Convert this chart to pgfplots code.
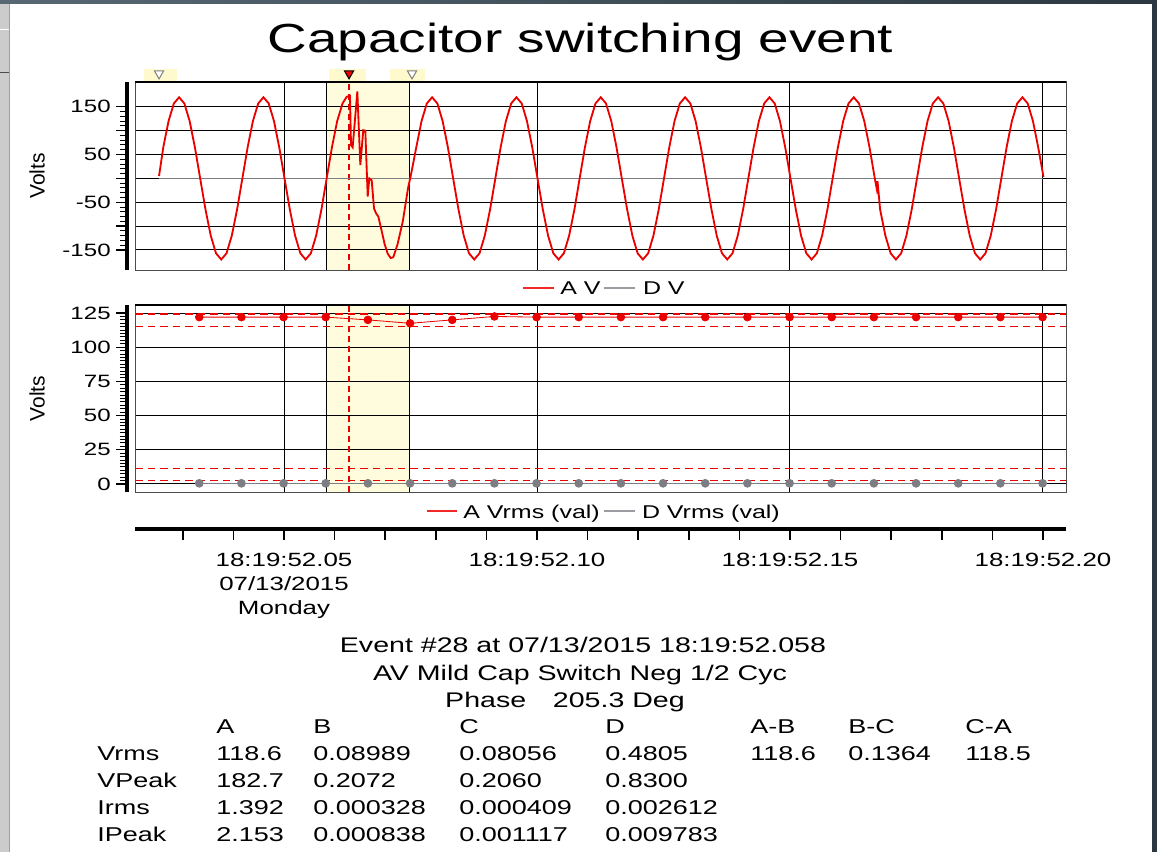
\documentclass[border=0pt]{standalone}
\usepackage{fontspec}
\setmainfont[FakeStretch=1.35]{Liberation Sans}
\newfontfamily\plainsans{Liberation Sans}
\usepackage{pgfplots}
\usepackage{pgfplotstable}
\pgfplotsset{compat=1.18}
\definecolor{wred}{RGB}{235,0,0}
\definecolor{lred}{RGB}{240,40,40}
\definecolor{dgray}{RGB}{125,125,132}
\definecolor{lgray}{RGB}{155,155,162}
\definecolor{hl}{RGB}{255,252,222}
\definecolor{glow}{RGB}{254,250,205}
\definecolor{chromeA}{RGB}{88,104,114}
\definecolor{chromeB}{RGB}{43,56,66}

\pgfplotstableread{
t v
25.30 5
26.14 65
27.18 120
28.23 157
29.27 170
30.31 157
31.35 120
32.39 65
33.43 0
34.48 -65
35.52 -120
36.56 -157
37.60 -170
38.64 -157
39.68 -120
40.73 -65
41.77 0
42.81 65
43.85 120
44.90 157
45.94 170
46.98 157
48.02 120
49.06 65
50.10 0
51.15 -65
52.19 -120
53.23 -157
54.27 -170
55.31 -157
56.35 -120
57.40 -65
58.43 0
59.47 65
60.51 120
61.56 157
62.39 171
63.04 173
63.24 70
63.57 65
64.49 182
65.08 28
65.67 101
66.07 100
66.54 -38
66.86 0
67.33 -4
67.79 -63
68.18 -73
68.64 -80
69.30 -110
69.89 -138
70.50 -158
71.10 -167
71.60 -165
72.44 -138
73.48 -90
74.52 -20
75.10 8
76.14 65
77.18 120
78.23 157
79.27 170
80.31 157
81.35 120
82.39 65
83.43 0
84.48 -65
85.52 -120
86.56 -157
87.60 -170
88.64 -157
89.68 -120
90.73 -65
91.77 0
92.81 65
93.85 120
94.90 157
95.94 170
96.98 157
98.02 120
99.06 65
100.10 0
101.15 -65
102.19 -120
103.23 -157
104.27 -170
105.31 -157
106.35 -120
107.40 -65
108.43 0
109.47 65
110.51 120
111.56 157
112.60 170
113.64 157
114.68 120
115.72 65
116.76 0
117.81 -65
118.85 -120
119.89 -157
120.93 -170
121.97 -157
123.01 -120
124.06 -65
125.10 0
126.14 65
127.18 120
128.23 157
129.27 170
130.31 157
131.35 120
132.39 65
133.43 0
134.48 -65
135.52 -120
136.56 -157
137.60 -170
138.64 -157
139.68 -120
140.73 -65
141.77 0
142.81 65
143.85 120
144.90 157
145.94 170
146.98 157
148.02 120
149.06 65
150.10 0
151.15 -65
152.19 -120
153.23 -157
154.27 -170
155.31 -157
156.35 -120
157.40 -65
158.43 0
159.47 65
160.51 120
161.56 157
162.60 170
163.64 157
164.68 120
165.72 65
166.76 0
167.15 -22
167.30 -6
167.81 -65
168.85 -120
169.89 -157
170.93 -170
171.97 -157
173.01 -120
174.06 -65
175.10 0
176.14 65
177.18 120
178.23 157
179.27 170
180.31 157
181.35 120
182.39 65
183.43 0
184.48 -65
185.52 -120
186.56 -157
187.60 -170
188.64 -157
189.68 -120
190.73 -65
191.77 0
192.81 65
193.85 120
194.90 157
195.94 170
196.98 157
198.02 120
199.06 65
200.10 3
}\waveA

\pgfplotstableread{
t v
33.25 122
41.58 122
49.92 122
58.25 122
66.58 120
74.92 117.5
83.25 120
91.58 122.5
99.92 122
108.25 122
116.58 122
124.92 122
133.25 122
141.58 122
149.92 122
158.25 122
166.58 122
174.92 122
183.25 122
191.58 122
199.92 122
}\vrmsA

\pgfplotstableread{
t v
33.25 0.48
41.58 0.48
49.92 0.48
58.25 0.48
66.58 0.48
74.92 0.48
83.25 0.48
91.58 0.48
99.92 0.48
108.25 0.48
116.58 0.48
124.92 0.48
133.25 0.48
141.58 0.48
149.92 0.48
158.25 0.48
166.58 0.48
174.92 0.48
183.25 0.48
191.58 0.48
199.92 0.48
}\vrmsD

\pgfplotsset{
  underaxis/.style={
    scale only axis, width=558.6pt,
    xmin=20.55, xmax=204.55, hide axis, clip=false,
  },
  frameaxis/.style={
    scale only axis, width=558.6pt,
    xmin=20.55, xmax=204.55,
    clip=false,
    axis line style={draw=gray!60!black, line width=0.6pt},
    xtick={50,100,150,200}, xticklabels={}, yticklabels={},
    major tick length=0pt, minor tick length=0pt,
    grid=major, major grid style={black, line width=0.6pt},
  },
  ruleraxis/.style={
    scale only axis, width=10pt,
    xmin=0, xmax=1,
    axis y line*=left, axis x line=none,
    y axis line style={line width=2.4pt},
    tick align=outside,
    major tick length=6.3pt, minor tick length=3.9pt,
    major tick style={black, line width=0.8pt},
    minor tick style={black, line width=0.6pt},
    yticklabel style={font=\fontsize{10.7}{12}\selectfont, inner sep=0pt, xshift=-3pt},
  },
}

\newcommand\tc[3]{\node[anchor=base west, font=\fontsize{12}{14}\selectfont, inner sep=0pt] at (#1pt,#2pt) {#3};}
\newcommand\legtxt[3]{\node[anchor=base west, font=\fontsize{11.1}{13}\selectfont, inner sep=0pt] at (#1pt,#2pt) {#3};}

\begin{document}
\begin{tikzpicture}
\useasboundingbox (0,0) rectangle (694.2pt,-511.2pt);
\fill[white] (0,0) rectangle (694.2pt,-511.2pt);
% window chrome
\fill[gray!40] (0,0) rectangle (5.4pt,-511.2pt);
\draw[gray!75, line width=0.7pt] (5.7pt,0) -- (5.7pt,-511.2pt);
\draw[white, line width=0.6pt] (0,-17.4pt) -- (5.4pt,-17.4pt);
\draw[gray!60!black, line width=0.6pt] (0,-43.2pt) -- (5.4pt,-43.2pt);
\fill[chromeB] (690.9pt,0) rectangle (694.2pt,-511.2pt);
\shade[left color=chromeA, right color=chromeB] (0,0) rectangle (694.2pt,-2.1pt);

% title
\node[anchor=base, font=\fontsize{24.4}{29}\selectfont, inner sep=0pt] at (348.3pt,-31.2pt) {Capacitor switching event};

% ===== top waveform: highlight underlay =====
\begin{axis}[underaxis, at={(81pt,-162pt)}, anchor=south west,
  height=112.8pt, ymin=-192, ymax=202]
\addplot[fill=hl, draw=none] coordinates {(58.44,-192) (74.77,-192) (74.77,202) (58.44,202)} -- cycle;
\addplot[fill=glow, draw=none] coordinates {(22.3,203.5) (28.8,203.5) (28.8,229) (22.3,229)} -- cycle;
\addplot[fill=glow, draw=none] coordinates {(58.9,203.5) (66.2,203.5) (66.2,229) (58.9,229)} -- cycle;
\addplot[fill=glow, draw=none] coordinates {(70.9,203.5) (77.9,203.5) (77.9,229) (70.9,229)} -- cycle;
\end{axis}

% ===== top waveform axis =====
\begin{axis}[frameaxis, at={(81pt,-162pt)}, anchor=south west,
  height=112.8pt, ymin=-192, ymax=202,
  ytick={-150,-100,...,150}]
\addplot[black, line width=0.8pt] coordinates {(58.44,-192) (58.44,202)};
\addplot[black, line width=0.8pt] coordinates {(74.77,-192) (74.77,202)};
\addplot[wred, line width=0.8pt, dash pattern=on 3.5pt off 2.5pt] coordinates {(62.85,-192) (62.85,202)};
\addplot[dgray, line width=0.5pt] coordinates {(25.3,0) (200.1,0)};
\addplot[wred, line width=1.1pt] table {\waveA};
\addplot[only marks, mark=triangle*, mark size=3.2pt, mark options={rotate=180, draw=gray, fill=white, line width=0.6pt}]
  coordinates {(25.3,219.7) (75.3,219.7)};
\addplot[only marks, mark=triangle*, mark size=3.2pt, mark options={rotate=180, draw=black, fill=wred, line width=0.6pt}]
  coordinates {(62.85,219.7)};
\draw[black, line width=1.5pt] (rel axis cs:0,1) -- (rel axis cs:1,1);
\end{axis}

\begin{axis}[ruleraxis, at={(75.9pt,-162pt)}, anchor=south west,
  height=112.8pt, ymin=-192, ymax=202,
  ytick={-150,-100,...,150}, yticklabels={-150,,-50,,50,,150},
  minor y tick num=4]
\addplot[draw=none] coordinates {(0.5,0) (0.6,10)};
\end{axis}

% ===== bottom rms: highlight underlay =====
\begin{axis}[underaxis, at={(81pt,-295.3pt)}, anchor=south west,
  height=112.4pt, ymin=-6, ymax=131]
\addplot[fill=hl, draw=none] coordinates {(58.44,-6) (74.77,-6) (74.77,131) (58.44,131)} -- cycle;
\end{axis}

% ===== bottom rms axis =====
\begin{axis}[frameaxis, at={(81pt,-295.3pt)}, anchor=south west,
  height=112.4pt, ymin=-6, ymax=131,
  ytick={0,25,...,125}]
\addplot[black, line width=0.8pt] coordinates {(58.44,-6) (58.44,131)};
\addplot[black, line width=0.8pt] coordinates {(74.77,-6) (74.77,131)};
\addplot[wred, line width=0.7pt, dash pattern=on 4.5pt off 3pt] coordinates {(20.55,124.3) (204.55,124.3)};
\addplot[wred, line width=0.7pt, dash pattern=on 4.5pt off 3pt] coordinates {(20.55,115.2) (204.55,115.2)};
\addplot[wred, line width=0.7pt, dash pattern=on 4.5pt off 3pt] coordinates {(20.55,11.2) (204.55,11.2)};
\addplot[wred, line width=0.7pt, dash pattern=on 4.5pt off 3pt] coordinates {(20.55,2.4) (204.55,2.4)};
\addplot[wred, line width=0.8pt, dash pattern=on 3.5pt off 2.5pt] coordinates {(62.85,-6) (62.85,131)};
\addplot[wred, line width=0.5pt, mark=*, mark size=2.3pt, mark options={solid, fill=wred, draw=wred}] table {\vrmsA};
\addplot[dgray, line width=0.6pt, mark=*, mark size=2.3pt, mark options={solid, fill=dgray, draw=dgray}] table {\vrmsD};
\draw[black, line width=1.5pt] (rel axis cs:0,1) -- (rel axis cs:1,1);
\end{axis}

\begin{axis}[ruleraxis, at={(75.9pt,-295.3pt)}, anchor=south west,
  height=112.4pt, ymin=-6, ymax=131,
  ytick={0,25,...,125}, yticklabels={0,25,50,75,100,125},
  minor y tick num=9]
\addplot[draw=none] coordinates {(0.5,0) (0.6,10)};
\end{axis}

% ===== time axis =====
\begin{axis}[at={(81pt,-317.4pt)}, anchor=south west, scale only axis,
  width=558.6pt, height=5pt, xmin=20.55, xmax=204.55, ymin=0, ymax=1,
  axis x line*=bottom, axis y line=none,
  x axis line style={line width=2.4pt},
  xtick={50,100,150,200},
  xticklabels={{18:19:52.05\\07/13/2015\\Monday},{18:19:52.10},{18:19:52.15},{18:19:52.20}},
  minor xtick={30,40,60,70,80,90,110,120,130,140,160,170,180,190},
  tick align=outside, major tick length=6.6pt, minor tick length=6.6pt,
  major tick style={black, line width=1pt}, minor tick style={black, line width=1pt},
  xticklabel style={font=\fontsize{11.5}{14.4}\selectfont, align=center, inner sep=0pt, anchor=north, yshift=-7.8pt}]
\addplot[draw=none] coordinates {(50,0.5) (60,0.5)};
\end{axis}

% legends
\draw[lred, line width=0.9pt] (313.8pt,-172.9pt) -- (332.4pt,-172.9pt);
\legtxt{336}{-176.8}{A V}
\draw[lgray, line width=0.9pt] (362.4pt,-172.9pt) -- (381pt,-172.9pt);
\legtxt{385.6}{-176.8}{D V}
\draw[lred, line width=0.9pt] (256pt,-306.6pt) -- (274pt,-306.6pt);
\legtxt{277.8}{-311.2}{A Vrms (val)}
\draw[lgray, line width=0.9pt] (362.4pt,-306.6pt) -- (381pt,-306.6pt);
\legtxt{385}{-311.2}{D Vrms (val)}

% y labels
\node[rotate=90, font=\plainsans\fontsize{12.6}{15}\selectfont] at (22.2pt,-105.6pt) {Volts};
\node[rotate=90, font=\plainsans\fontsize{12.6}{15}\selectfont] at (22.2pt,-239.1pt) {Volts};

% event text
\node[anchor=base, font=\fontsize{12.7}{15}\selectfont] at (349.8pt,-391.2pt) {Event \#28 at 07/13/2015 18:19:52.058};
\node[anchor=base, font=\fontsize{12.7}{15}\selectfont] at (348pt,-408pt) {AV Mild Cap Switch Neg 1/2 Cyc};
\node[anchor=base, font=\fontsize{12.7}{15}\selectfont] at (339pt,-424.2pt) {Phase\hspace{16pt}205.3 Deg};

% table
\tc{129.6}{-439.8}{A}\tc{187.8}{-439.8}{B}\tc{275.4}{-439.8}{C}\tc{363}{-439.8}{D}
\tc{450}{-439.8}{A-B}\tc{508.8}{-439.8}{B-C}\tc{579}{-439.8}{C-A}
\tc{58.2}{-456}{Vrms}\tc{129.6}{-456}{118.6}\tc{187.8}{-456}{0.08989}\tc{275.4}{-456}{0.08056}\tc{363}{-456}{0.4805}
\tc{450}{-456}{118.6}\tc{508.8}{-456}{0.1364}\tc{579}{-456}{118.5}
\tc{58.2}{-472.6}{VPeak}\tc{129.6}{-472.6}{182.7}\tc{187.8}{-472.6}{0.2072}\tc{275.4}{-472.6}{0.2060}\tc{363}{-472.6}{0.8300}
\tc{58.2}{-488.4}{Irms}\tc{129.6}{-488.4}{1.392}\tc{187.8}{-488.4}{0.000328}\tc{275.4}{-488.4}{0.000409}\tc{363}{-488.4}{0.002612}
\tc{58.2}{-505}{IPeak}\tc{129.6}{-505}{2.153}\tc{187.8}{-505}{0.000838}\tc{275.4}{-505}{0.001117}\tc{363}{-505}{0.009783}
\end{tikzpicture}
\end{document}
